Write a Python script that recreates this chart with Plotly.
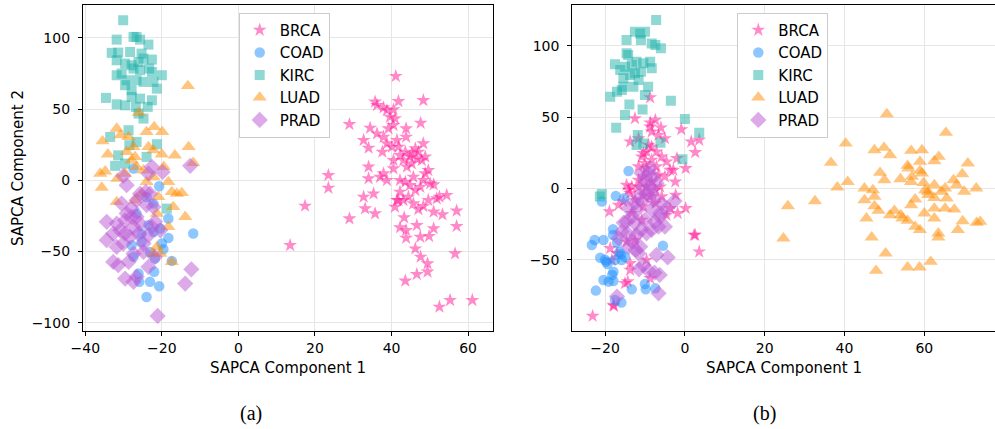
import plotly.graph_objects as go

# ---------------- Panel (a) data ----------------
a_brca_x = [61.1, 55.3, 52.5, 43.6, 46.6, 49.4, 49.4, 47.6, 46.2, 56.6, 57.0, 57.0, 53.3, 54.4, 52.5, 51.0, 51.0, 49.8,
            47.5, 46.6, 43.8, 43.8, 42.2, 43.3, 45.7, 47.0, 48.3, 49.6, 50.1, 51.0, 49.6, 48.8, 48.3, 47.6, 48.3, 41.8,
            41.1, 40.5, 38.8, 37.9, 36.2, 35.7, 40.9, 40.5, 39.2, 43.8, 43.8, 34.4, 36.2, 32.7, 34.0, 37.6, 38.8, 40.1,
            41.8, 42.2, 43.1, 44.8, 43.6, 46.2, 46.6, 47.9, 45.3, 44.0, 40.5, 37.9, 38.8, 37.0, 34.0, 34.0, 29.0, 35.3,
            32.7, 33.1, 35.7, 29.0, 23.5, 23.5, 17.4, 13.5, 42.2, 43.6, 44.8, 46.2, 42.2, 41.4, 43.1, 44.4, 47.5, 48.3,
            45.7, 40.5, 41.4, 37.9, 39.6, 45.3, 47.0, 41.8, 40.9, 48.8, 51.8]
a_brca_y = [-84.2, -84.2, -88.9, -70.6, -66.0, -64.3, -58.5, -53.8, -48.0, -51.5, -32.3, -21.5, -24.1, -10.5, -11.7,
            -22.2, -33.9, -39.3, -39.8, -31.6, -35.1, -40.5, -33.2, -26.2, -16.4, -20.4, -18.2, -14.0, -2.3, -3.0, 7.0,
            16.4, 25.7, 40.2, 56.1, 55.4, 73.0, 49.6, 49.1, 51.0, 52.6, 55.0, 43.3, 38.6, 36.3, 36.3, 30.4, 36.7, 32.7,
            28.1, 22.7, 19.9, 25.7, 23.4, 23.4, 17.5, 14.0, 16.4, 19.9, 22.2, 15.2, 14.0, 11.7, 9.4, 8.2, 4.7, 0.0, 2.3,
            9.4, 1.2, 39.3, -9.4, -11.7, -19.9, -23.4, -26.9, 3.5, -5.4, -18.0, -45.6, 0.0, -1.2, -3.5, -7.0, -8.2,
            -14.0, -14.0, -11.7, -4.7, 0.0, 2.3, 14.0, 28.1, 30.4, 44.4, 18.7, 19.9, -14.0, -18.7, 4.7, -12.9]

a_coad_x = [-11.8, -18.3, -18.3, -19.6, -17.4, -20.7, -24.0, -20.7, -22.0, -23.1, -25.9, -26.1, -25.3, -25.3, -23.5,
            -22.2, -20.0, -27.4, -27.9, -24.0, -22.2, -26.6, -27.4, -21.8, -23.1, -20.4]
a_coad_y = [-37.4, -26.9, -40.5, -48.4, -56.6, -4.2, -81.9, -74.4, -64.3, -71.3, -71.3, -65.5, -43.3, -37.4, -31.6,
            -36.3, -44.4, 8.2, -45.6, -11.7, -16.4, -23.4, -53.8, -55.0, -50.3, -33.9]

a_kirc_x = [-30.1, -31.8, -26.6, -25.7, -23.5, -33.1, -31.4, -28.3, -24.8, -22.6, -31.8, -29.6, -27.4, -25.7, -23.3,
            -22.6, -20.0, -31.8, -30.5, -29.2, -26.6, -24.8, -22.2, -21.3, -27.9, -29.6, -34.6, -31.8, -29.6, -27.9,
            -25.7, -22.6, -23.7, -26.8, -24.8, -26.1, -28.7, -33.5, -26.6, -21.3, -31.4, -29.6, -32.2, -24.0, -18.7,
            -27.9, -26.1, -25.3, -27.4, -28.5]
a_kirc_y = [112.3, 98.7, 100.6, 98.7, 95.2, 89.4, 89.6, 90.0, 85.4, 84.7, 84.2, 81.9, 78.4, 77.2, 78.4, 76.0, 73.7,
            73.7, 74.9, 70.2, 70.2, 69.0, 69.0, 64.3, 63.2, 66.7, 57.8, 53.3, 52.6, 58.5, 57.3, 56.1, 51.5, 51.5, 43.3,
            46.8, 35.1, 30.4, 26.9, 25.3, 17.5, 11.7, 10.1, 16.4, -19.9, 80.7, 83.0, 88.9, 100.6, 24.6]

a_luad_x = [-13.2, -26.0, -31.8, -30.8, -28.7, -22.0, -19.9, -24.0, -35.5, -34.1, -29.2, -27.0, -23.5, -22.2, -20.0,
            -16.6, -13.0, -11.8, -36.1, -34.8, -35.7, -31.6, -29.6, -26.6, -24.0, -22.2, -20.9, -18.3, -17.4, -16.1,
            -14.8, -31.8, -27.0, -21.3, -17.0, -13.9, -18.3, -17.4, -21.3, -20.4, -22.2, -27.4, -27.9, -24.8, -19.5,
            -25.3]
a_luad_y = [66.2, 47.3, 36.3, 31.6, 30.4, 37.4, 33.9, 33.9, 27.4, 18.2, 19.9, 16.4, 23.4, 21.1, 18.2, 17.5, 23.4, 12.2,
            4.7, 6.3, -5.1, 1.2, 4.7, 9.4, -1.2, 2.3, -11.7, -1.2, -8.2, -9.4, -8.9, -15.2, -14.0, -23.4, -18.7, -25.7,
            -32.7, -57.3, -46.8, -51.5, -51.5, 23.4, 14.0, 7.0, 9.4, -9.4]

a_prad_x = [-21.1, -12.3, -13.9, -12.6, -19.8, -22.6, -30.1, -29.2, -34.4, -34.4, -31.8, -32.7, -31.4, -29.6, -27.4,
            -26.6, -28.7, -27.4, -30.9, -29.6, -28.3, -27.4, -29.2, -27.9, -26.6, -24.2, -23.1, -22.2, -21.8, -23.5,
            -24.8, -23.5, -21.8, -22.6, -20.4, -26.6, -25.7, -32.7, -30.1, -27.9, -26.1, -24.8, -24.0, -29.6, -31.8,
            -23.5, -30.5, -25.7]
a_prad_y = [-95.2, -62.5, -72.5, 10.1, 5.8, 9.4, 3.0, -3.5, -29.2, -42.1, -46.8, -57.3, -59.6, -69.0, -71.3, -67.8,
            -57.3, -51.5, -35.1, -37.4, -39.8, -32.7, -23.4, -19.9, -14.0, -8.2, -9.4, -18.7, -29.2, -38.6, -50.3,
            -60.8, -53.8, -32.7, -35.1, -25.7, -30.4, -37.4, -44.4, -25.7, -37.4, -44.4, -17.5, -28.1, -30.4, 4.7,
            -16.4, -9.4]

# ---------------- Panel (b) data ----------------
b_brca_x = [-23.1, -17.8, -17.9, -15.0, -14.3, -8.7, -13.7, -13.7, -18.3, -18.7, -17.0, -18.9, -16.6, 3.6, 2.3, 2.6,
            -1.8, 0.2, -2.3, -2.4, -2.9, -2.0, 0.2, 2.6, 1.6, 3.6, -0.9, -6.0, -8.7, -8.3, -12.5, -8.7, -13.7, -11.6,
            -10.4, -8.3, -7.1, -5.8, -4.6, -3.7, -5.0, -6.2, -5.8, -3.7, -4.6, -7.4, -8.7, -10.4, -11.6, -13.3, -14.6,
            -13.7, -12.5, -10.4, -11.6, -10.0, -8.3, -7.1, -9.6, -6.7, -10.4, -8.3, -7.4, -9.6, -14.1, -15.4, -5.0,
            -10.8, -9.1, -6.6, -13.3, -10.8, -12.5, -14.6, -9.6, -7.4, -8.7, -11.6, -9.6]
b_brca_y = [-89.5, -82.5, -81.8, -66.6, -65.4, -63.1, -57.2, -52.6, -50.2, -42.1, -45.6, -16.3, -11.7, -44.4, -32.7,
            -32.7, -17.5, -14.0, -4.7, 4.6, 12.8, 21.0, 14.0, 25.2, 32.7, 33.9, 41.3, 42.5, 46.0, 39.7, 49.0, 63.7, 32.7,
            35.0, 24.5, 29.2, 25.7, 22.2, 18.7, 12.8, 8.2, 1.1, -5.8, -14.0, -18.7, -10.5, -5.8, -4.7, 1.1, 1.1, 2.3,
            -3.5, -8.2, -12.8, 15.2, 17.5, 19.9, 15.2, 14.0, 9.3, 8.2, 4.6, -1.2, 1.1, -1.2, -9.3, 35.0, 22.2, 30.4,
            37.4, -17.5, -22.2, -36.2, -37.4, -50.2, 47.8, 43.2, 5.8, 25.7]

b_coad_x = [-14.1, -17.3, -15.2, -20.8, -18.0, -23.3, -22.6, -20.4, -17.0, -5.5, -21.2, -19.7, -19.4, -17.5, -15.8,
            -17.9, -18.2, -20.4, -19.1, -17.9, -22.3, -13.3, -10.0, -9.8, -7.4, -15.9, -17.5, -16.4, -15.0, -16.0,
            -20.0, -18.0]
b_coad_y = [12.1, -5.4, -7.0, -9.3, -28.7, -39.7, -36.2, -36.2, -38.1, -40.2, -48.6, -51.4, -53.0, -50.2, -50.2,
            -58.4, -60.8, -64.3, -65.4, -65.0, -71.7, -70.8, -67.1, -70.8, -70.1, -80.1, -78.3, -44.7, -48.0, -46.0,
            -50.0, -32.7]

b_kirc_x = [-7.2, -14.6, -12.5, -11.2, -10.0, -11.0, -8.3, -6.0, -7.4, -14.6, -17.5, -16.2, -15.0, -13.3, -12.1,
            -10.4, -8.7, -8.3, -11.0, -12.5, -13.7, -15.4, -15.4, -12.9, -11.6, -9.2, -18.7, -17.0, -15.8, -10.0,
            -3.5, -13.9, -15.0, -10.6, -17.2, 0.0, 3.6, -11.8, -12.1, -10.4, -6.1, -0.6, -20.8, -21.3, -14.2]
b_kirc_y = [118.0, 103.9, 109.8, 108.6, 109.8, 103.9, 101.6, 98.1, 100.5, 94.6, 86.9, 82.9, 85.3, 86.4, 88.8, 87.6,
            88.8, 84.1, 81.8, 80.6, 79.4, 77.1, 71.2, 71.2, 75.9, 71.2, 64.2, 67.7, 68.9, 65.4, 61.4, 58.8, 51.4, 55.3,
            42.5, 48.6, 39.0, 37.4, 30.3, 31.5, 32.0, 20.3, -4.0, -5.8, 93.4]

b_luad_x = [50.6, 65.4, 40.3, 47.5, 49.9, 51.4, 56.7, 59.4, 63.6, 62.5, 58.9, 70.9, 36.6, 55.8, 58.9, 48.9, 59.4,
            69.5, 50.0, 54.0, 56.9, 56.7, 59.8, 67.3, 68.1, 40.8, 38.2, 45.0, 47.1, 47.5, 45.0, 47.5, 48.5, 56.7, 57.7,
            60.2, 60.9, 62.5, 62.5, 64.3, 65.2, 65.6, 70.0, 73.0, 65.2, 67.5, 62.5, 60.0, 62.5, 51.4, 52.5, 54.1, 54.5,
            55.8, 45.5, 57.7, 58.9, 63.5, 63.5, 68.4, 69.6, 73.1, 74.0, 46.8, 50.3, 25.8, 32.6, 24.7, 47.9, 55.8, 58.8,
            61.6, 56.0, 61.0]
b_luad_y = [52.1, 39.0, 31.5, 26.8, 28.5, 23.3, 26.4, 26.8, 22.2, 19.1, 18.7, 17.5, 18.0, 15.9, 12.4, 11.0, 10.5,
            10.0, 5.8, 6.5, 8.2, 4.6, 3.9, 5.8, 2.3, 4.6, 0.7, 0.0, -1.2, -5.8, -8.2, -12.4, -15.7, -11.7, -7.7, -1.2,
            -2.3, 2.3, -6.6, -2.3, 0.0, -7.0, -2.3, 0.0, -14.1, -14.8, -14.1, -17.5, -21.0, -18.7, -15.7, -18.7, -21.0,
            -22.7, -21.0, -26.9, -29.2, -31.5, -34.3, -29.2, -22.9, -24.1, -23.4, -34.3, -45.5, -12.4, -8.9, -35.0,
            -57.7, -55.4, -55.4, -51.4, 14.0, -4.5]

b_prad_x = [-2.6, -5.0, -6.2, -5.8, -7.1, -4.3, -10.4, -11.5, -9.1, -7.6, -6.3, -6.6, -17.0, -16.6, -15.3, -14.4,
            -13.2, -12.3, -11.2, -13.2, -12.0, -10.8, -9.6, -8.7, -10.0, -10.8, -9.1, -7.9, -7.1, -7.9, -8.3, -10.0,
            -11.0, -12.1, -9.6, -8.3, -7.5, -6.2, -6.6, -11.6, -12.5, -14.1, -14.6, -15.8, -8.7, -8.3, -10.6, -12.5,
            -14.1, -11.6, -4.5]
b_prad_y = [-8.9, -26.9, -17.5, -10.5, -46.7, -48.4, -53.7, -56.8, -57.7, -59.1, -60.7, -73.6, -75.9, -35.0, -24.1,
            -31.5, -37.4, -43.2, -40.9, -19.9, -15.2, -9.3, -3.5, 1.1, 5.8, 10.5, 10.5, 8.2, 3.5, -8.2, -15.2, -22.2,
            -29.2, -32.7, -31.5, -29.2, -23.4, -19.9, -26.9, -5.8, -10.5, -14.0, -23.4, -30.4, 14.0, -3.5, 1.1, -24.5,
            -40.9, -45.6, -14.1]

classes = ["BRCA", "COAD", "KIRC", "LUAD", "PRAD"]
colors = ["#ff1493", "#1e90ff", "#20b2aa", "#ff8c00", "#ba55d3"]
symbols = ["star", "circle", "square", "triangle-up", "diamond"]
sizes = [10.5, 10.5, 10, 12.5, 12.5]

panel_a = [(a_brca_x, a_brca_y), (a_coad_x, a_coad_y), (a_kirc_x, a_kirc_y), (a_luad_x, a_luad_y), (a_prad_x, a_prad_y)]
panel_b = [(b_brca_x, b_brca_y), (b_coad_x, b_coad_y), (b_kirc_x, b_kirc_y), (b_luad_x, b_luad_y), (b_prad_x, b_prad_y)]

fig = go.Figure()
for i, (xs, ys) in enumerate(panel_a):
    fig.add_trace(go.Scatter(x=xs, y=ys, mode="markers", name=classes[i], xaxis="x", yaxis="y", legend="legend",
                             marker=dict(symbol=symbols[i], color=colors[i], size=sizes[i], opacity=0.5,
                                         line=dict(width=0))))
for i, (xs, ys) in enumerate(panel_b):
    fig.add_trace(go.Scatter(x=xs, y=ys, mode="markers", name=classes[i], xaxis="x2", yaxis="y2", legend="legend2",
                             marker=dict(symbol=symbols[i], color=colors[i], size=sizes[i], opacity=0.5,
                                         line=dict(width=0))))

W, H = 995, 429
tickfont = dict(family="DejaVu Sans", size=14, color="black")
axis_common = dict(showline=True, linecolor="black", linewidth=1.2, ticks="outside", ticklen=4, tickcolor="black",
                   tickwidth=1, showgrid=True, gridcolor="#e6e6e6", gridwidth=1, zeroline=False, tickfont=tickfont,
                   automargin=False)
ydom = [1 - 331 / H, 1 - 5 / H]
legend_font = dict(family="DejaVu Sans", size=15, color="black")
label_font = dict(family="DejaVu Sans", size=15, color="black")
cap_font = dict(family="Liberation Serif, Times New Roman, serif", size=20, color="black")

fig.update_layout(
    width=W, height=H, margin=dict(l=0, r=0, t=0, b=0),
    paper_bgcolor="white", plot_bgcolor="white", showlegend=True,
    xaxis=dict(domain=[83 / W, 493 / W], range=[-40.6, 66.5], tickvals=[-40, -20, 0, 20, 40, 60],
               mirror=True, anchor="y", **axis_common),
    yaxis=dict(domain=ydom, range=[-105.8, 123], tickvals=[-100, -50, 0, 50, 100], mirror=True, anchor="x",
               ticklabelstandoff=5, **axis_common),
    xaxis2=dict(domain=[572.3 / W, 1.0], range=[-28.2, 77.7], tickvals=[-20, 0, 20, 40, 60], mirror=True,
                anchor="y2", **axis_common),
    yaxis2=dict(domain=ydom, range=[-100, 128.5], tickvals=[-50, 0, 50, 100], mirror=False, anchor="x2",
                ticklabelstandoff=5, **axis_common),
    legend=dict(x=238.7 / W, y=1 - 12.7 / H, xanchor="left", yanchor="top", bgcolor="white",
                bordercolor="#cccccc", borderwidth=1, font=legend_font, tracegroupgap=0),
    legend2=dict(x=737.3 / W, y=1 - 12.7 / H, xanchor="left", yanchor="top", bgcolor="white",
                 bordercolor="#cccccc", borderwidth=1, font=legend_font, tracegroupgap=0),
    annotations=[
        dict(text="SAPCA Component 1", x=(83 + 493) / 2 / W, y=1 - 368 / H, xref="paper", yref="paper",
             showarrow=False, font=label_font, xanchor="center", yanchor="middle"),
        dict(text="SAPCA Component 1", x=(572.3 + 995) / 2 / W, y=1 - 368 / H, xref="paper", yref="paper",
             showarrow=False, font=label_font, xanchor="center", yanchor="middle"),
        dict(text="SAPCA Component 2", x=18 / W, y=1 - 168 / H, xref="paper", yref="paper", textangle=-90,
             showarrow=False, font=label_font, xanchor="center", yanchor="middle"),
        dict(text="(a)", x=250.5 / W, y=1 - 413 / H, xref="paper", yref="paper", showarrow=False,
             font=cap_font, xanchor="center", yanchor="middle"),
        dict(text="(b)", x=764 / W, y=1 - 413 / H, xref="paper", yref="paper", showarrow=False,
             font=cap_font, xanchor="center", yanchor="middle"),
    ],
)

fig.write_html("out.html")
